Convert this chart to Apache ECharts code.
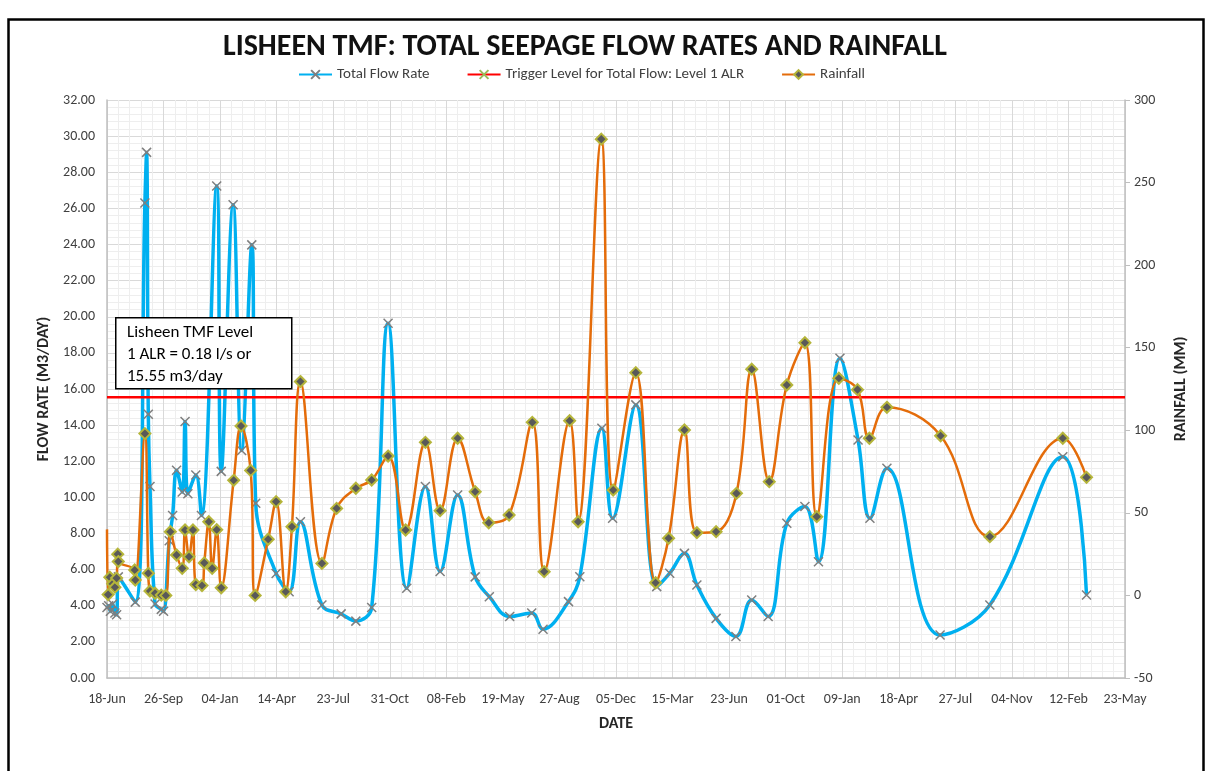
<!DOCTYPE html>
<html>
<head>
<meta charset="utf-8">
<title>Lisheen TMF seepage flow rates and rainfall</title>
<script src="https://cdn.jsdelivr.net/npm/echarts@6/dist/echarts.min.js"></script>
<style>
  html, body { margin: 0; padding: 0; background: #fff; }
  #chart { width: 1211px; height: 771px; }
</style>
</head>
<body>
<div id="chart"></div>
<script>
// x axis: first tick date, ticks every 100 days
const startDate = '2016-06-18'
const tickStepDays = 100
const tickCount = 18

// total seepage flow rate (m3/day)
const flowDates = [
  '2016-06-18', '2016-06-21', '2016-06-24', '2016-06-28', '2016-07-02', '2016-07-05', '2016-07-08',
  '2016-08-07', '2016-08-24', '2016-08-27', '2016-08-30', '2016-09-02', '2016-09-11', '2016-09-22',
  '2016-09-26', '2016-10-06', '2016-10-12', '2016-10-19', '2016-10-29', '2016-11-03', '2016-11-08',
  '2016-11-22', '2016-12-02', '2016-12-29', '2017-01-06', '2017-01-27', '2017-02-11', '2017-03-01',
  '2017-03-08', '2017-04-13', '2017-05-06', '2017-05-26', '2017-07-03', '2017-08-06', '2017-09-01',
  '2017-09-29', '2017-10-28', '2017-11-30', '2018-01-02', '2018-01-28', '2018-02-28', '2018-03-31',
  '2018-04-25', '2018-05-31', '2018-07-09', '2018-07-29', '2018-09-12', '2018-10-02', '2018-11-10',
  '2018-11-29', '2019-01-09', '2019-02-15', '2019-03-10', '2019-04-05', '2019-04-27', '2019-05-31',
  '2019-07-05', '2019-08-02', '2019-08-31', '2019-10-03', '2019-11-04', '2019-11-28', '2020-01-05',
  '2020-02-06', '2020-02-27', '2020-03-28', '2020-06-30', '2020-09-26', '2021-02-02', '2021-03-16'
]
const flowValues = [
  3.9, 4.0, 3.7, 4.1, 3.6, 3.5, 5.6,
  4.2, 26.3, 29.1, 14.6, 10.6, 4.1, 3.8,
  3.7, 7.6, 9.0, 11.5, 10.3, 14.2, 10.2,
  11.24, 9.0, 27.24, 11.44, 26.2, 12.6, 23.98,
  9.67, 5.79, 4.78, 8.65, 4.04, 3.55, 3.15,
  3.9, 19.64, 4.97, 10.6, 5.9, 10.13, 5.6,
  4.5, 3.4, 3.6, 2.7, 4.23, 5.61, 13.83,
  8.84, 15.12, 5.06, 5.8, 6.9, 5.15, 3.3,
  2.3, 4.32, 3.4, 8.57, 9.49, 6.44, 17.7,
  13.18, 8.84, 11.61, 2.38, 4.04, 12.25, 4.59
]

// rainfall (mm)
const rainDates = [
  '2016-06-18', '2016-06-20', '2016-06-23', '2016-06-28', '2016-07-02', '2016-07-05', '2016-07-07',
  '2016-07-08', '2016-08-06', '2016-08-07', '2016-08-24', '2016-08-30', '2016-09-02', '2016-09-11',
  '2016-09-22', '2016-09-30', '2016-10-08', '2016-10-19', '2016-10-29', '2016-11-03', '2016-11-10',
  '2016-11-17', '2016-11-22', '2016-12-03', '2016-12-07', '2016-12-15', '2016-12-21', '2016-12-29',
  '2017-01-06', '2017-01-28', '2017-02-10', '2017-02-27', '2017-03-07', '2017-03-30', '2017-04-13',
  '2017-04-30', '2017-05-11', '2017-05-26', '2017-07-03', '2017-07-29', '2017-09-01', '2017-09-29',
  '2017-10-28', '2017-11-28', '2018-01-02', '2018-01-28', '2018-02-28', '2018-03-31', '2018-04-24',
  '2018-05-30', '2018-07-10', '2018-07-31', '2018-09-14', '2018-09-29', '2018-11-09', '2018-11-30',
  '2019-01-09', '2019-02-13', '2019-03-08', '2019-04-05', '2019-04-27', '2019-05-31', '2019-07-06',
  '2019-08-02', '2019-09-02', '2019-10-03', '2019-11-04', '2019-11-25', '2020-01-03', '2020-02-05',
  '2020-02-26', '2020-03-28', '2020-07-01', '2020-09-26', '2021-02-02', '2021-03-16'
]
const rainValues = [
  40, 0.5, 11, 7, 5, 10.5, 25,
  20.5, 15.4, 9.3, 98, 13.4, 2.7, 1.3,
  0.2, 0, 38.6, 24.5, 16.4, 39.6, 23.4,
  39.6, 6.6, 6.0, 19.7, 44.6, 16.4, 39.8,
  4.6, 69.7, 102.6, 75.7, 0, 34, 56.8,
  2.2, 41.6, 129.5, 19.4, 52.7, 64.9, 69.9,
  84.4, 39.6, 92.7, 51.3, 95.2, 62.8, 44,
  48.7, 104.8, 14.4, 105.8, 44.6, 276.3, 63.8,
  134.9, 7.7, 34.6, 100.2, 38, 38.6, 61.8,
  137, 68.9, 127.4, 153, 47.7, 131.5, 124.6,
  95.2, 113.9, 96.7, 35.6, 95.2, 71.5
]

// Level 1 ALR trigger for total flow (m3/day)
const triggerLevel = 15.55

const seriesNames = ['Total Flow Rate', 'Trigger Level for Total Flow: Level 1 ALR', 'Rainfall']
const noteLines = ['Lisheen TMF Level', '1 ALR = 0.18 l/s or', '15.55 m3/day']

const DAY_MS = 86400000
const start = Date.parse(startDate)
const dayOf = s => (Date.parse(s) - start) / DAY_MS
const MONTHS = ['Jan', 'Feb', 'Mar', 'Apr', 'May', 'Jun', 'Jul', 'Aug', 'Sep', 'Oct', 'Nov', 'Dec']
function dayLabel(v) {
  const d = new Date(start + v * DAY_MS)
  return String(d.getUTCDate()).padStart(2, '0') + '-' + MONTHS[d.getUTCMonth()]
}

const xMax = tickStepDays * tickCount
const flowData = flowDates.map((d, i) => [dayOf(d), flowValues[i]])
const rainData = rainDates.map((d, i) => [dayOf(d), rainValues[i]])
// first rainfall reading sits on the left edge in the original, no marker shown
rainData[0] = { value: rainData[0], symbol: 'none' }
const triggerData = [[0, triggerLevel], [xMax, triggerLevel]]

const FONT = 'Carlito, "Liberation Sans Narrow", "Open Sans", sans-serif'
const CROSS = 'path://M0,0L10,10M10,0L0,10'

const chart = echarts.init(document.getElementById('chart'))

const option = {
  backgroundColor: '#fff',
  textStyle: { fontFamily: FONT },
  title: {
    text: 'LISHEEN TMF: TOTAL SEEPAGE FLOW RATES AND RAINFALL',
    left: 218,
    top: 27,
    textStyle: { fontSize: 30, fontWeight: 'bold', color: '#111', fontFamily: FONT }
  },
  legend: {
    data: seriesNames,
    left: 293,
    top: 62,
    itemWidth: 33,
    itemHeight: 11,
    itemGap: 37,
    textStyle: { fontSize: 15, color: '#404040', fontFamily: FONT }
  },
  grid: { left: 107, right: 86, top: 100, bottom: 93, containLabel: false },
  xAxis: {
    type: 'value',
    min: 0,
    max: xMax,
    interval: tickStepDays,
    name: 'DATE',
    nameLocation: 'middle',
    nameGap: 38,
    nameTextStyle: { fontSize: 16, fontWeight: 'bold', color: '#262626' },
    axisLine: { show: true, lineStyle: { color: '#bfbfbf', width: 1.5 } },
    axisTick: { show: false },
    axisLabel: { formatter: dayLabel, fontSize: 14, color: '#404040', margin: 14 },
    splitLine: { show: true, lineStyle: { color: '#d9d9d9', width: 1 } },
    minorTick: { show: false, splitNumber: 5 },
    minorSplitLine: { show: true, lineStyle: { color: '#eeeeee', width: 1 } }
  },
  yAxis: [
    {
      type: 'value',
      min: 0,
      max: 32,
      interval: 2,
      name: 'FLOW RATE (M3/DAY)',
      nameLocation: 'middle',
      nameGap: 54,
      nameRotate: 90,
      nameTextStyle: { fontSize: 16, fontWeight: 'bold', color: '#262626' },
      axisLine: { show: true, lineStyle: { color: '#bfbfbf', width: 1.5 } },
      axisTick: { show: false },
      axisLabel: { formatter: v => v.toFixed(2), fontSize: 14, color: '#404040', margin: 12 },
      splitLine: { show: true, lineStyle: { color: '#d9d9d9', width: 1 } },
      minorTick: { show: false, splitNumber: 5 },
      minorSplitLine: { show: true, lineStyle: { color: '#eeeeee', width: 1 } }
    },
    {
      type: 'value',
      position: 'right',
      min: -50,
      max: 300,
      interval: 50,
      name: 'RAINFALL (MM)',
      nameLocation: 'middle',
      nameGap: 48,
      nameRotate: 90,
      nameTextStyle: { fontSize: 16, fontWeight: 'bold', color: '#262626' },
      axisLine: { show: true, lineStyle: { color: '#bfbfbf', width: 1.5 } },
      axisTick: { show: true, length: 5, lineStyle: { color: '#bfbfbf' } },
      axisLabel: { fontSize: 14, color: '#404040', margin: 9 },
      splitLine: { show: false }
    }
  ],
  series: [
    {
      name: seriesNames[0],
      type: 'line',
      yAxisIndex: 0,
      data: flowData,
      smooth: 0.4,
      symbol: CROSS,
      symbolSize: 9,
      lineStyle: { color: '#00b0f0', width: 3.5 },
      itemStyle: { color: '#7f7f7f', borderColor: '#7f7f7f', borderWidth: 1.5 },
      z: 2
    },
    {
      name: seriesNames[1],
      type: 'line',
      yAxisIndex: 0,
      data: triggerData,
      showSymbol: false,
      symbol: CROSS,
      symbolSize: 9,
      lineStyle: { color: '#ff0000', width: 2.5 },
      itemStyle: { color: '#9bbb59', borderColor: '#9bbb59', borderWidth: 1.5 },
      z: 3
    },
    {
      name: seriesNames[2],
      type: 'line',
      yAxisIndex: 1,
      data: rainData,
      smooth: 0.4,
      symbol: 'diamond',
      symbolSize: 11,
      lineStyle: { color: '#e46c0a', width: 2.5 },
      itemStyle: { color: '#595959', borderColor: '#b5b53a', borderWidth: 2 },
      z: 4
    }
  ],
  graphic: [
    {
      type: 'rect',
      left: 6,
      top: 17,
      z: 100,
      shape: { width: 1195, height: 800 },
      style: { fill: 'none', stroke: '#000', lineWidth: 2.5 }
    },
    {
      type: 'rect',
      left: 115,
      top: 317,
      z: 100,
      shape: { width: 176, height: 71 },
      style: { fill: '#fff', stroke: '#000', lineWidth: 1.5 }
    },
    {
      type: 'text',
      left: 127,
      top: 322,
      z: 101,
      style: {
        text: noteLines.join('\n'),
        font: '17px ' + FONT,
        lineHeight: 22,
        fill: '#000'
      }
    }
  ]
}

chart.setOption(option)
window.addEventListener('resize', () => chart.resize())
</script>
</body>
</html>
